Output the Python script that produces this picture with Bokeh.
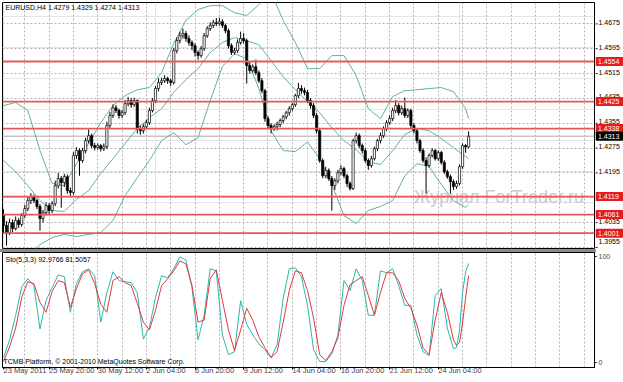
from bokeh.plotting import figure
from bokeh.models import Range1d, FixedTicker, Grid, Label, Span, ColumnDataSource, Div
from bokeh.layouts import column, row
from bokeh.embed import file_html
from bokeh.resources import INLINE
from bokeh.core.properties import value

# ---------------- data ----------------
opens = [1.4060, 1.4026, 1.4003, 1.4035, 1.4016, 1.4042, 1.4029, 1.4058, 1.4080, 1.4106,
         1.4119, 1.4106, 1.4087, 1.4048, 1.4067, 1.4090, 1.4074, 1.4096, 1.4154, 1.4177,
         1.4164, 1.4183, 1.4138, 1.4132, 1.4251, 1.4267, 1.4235, 1.4267, 1.4299, 1.4315,
         1.4283, 1.4277, 1.4283, 1.4273, 1.4280, 1.4348, 1.4380, 1.4405, 1.4396, 1.4380,
         1.4389, 1.4418, 1.4428, 1.4415, 1.4428, 1.4338, 1.4331, 1.4344, 1.4357, 1.4396,
         1.4428, 1.4467, 1.4486, 1.4492, 1.4499, 1.4492, 1.4486, 1.4589, 1.4621, 1.4637,
         1.4644, 1.4628, 1.4615, 1.4605, 1.4583, 1.4573, 1.4595, 1.4637, 1.4660, 1.4670,
         1.4679, 1.4676, 1.4682, 1.4670, 1.4653, 1.4605, 1.4583, 1.4589, 1.4615, 1.4628,
         1.4621, 1.4541, 1.4525, 1.4537, 1.4518, 1.4492, 1.4460, 1.4370, 1.4348, 1.4338,
         1.4344, 1.4351, 1.4364, 1.4376, 1.4389, 1.4402, 1.4415, 1.4444, 1.4467, 1.4460,
         1.4454, 1.4428, 1.4412, 1.4380, 1.4331, 1.4235, 1.4186, 1.4203, 1.4177, 1.4154,
         1.4170, 1.4196, 1.4209, 1.4186, 1.4161, 1.4145, 1.4299, 1.4315, 1.4283, 1.4267,
         1.4235, 1.4219, 1.4241, 1.4273, 1.4299, 1.4315, 1.4338, 1.4357, 1.4370, 1.4396,
         1.4412, 1.4389, 1.4402, 1.4380, 1.4396, 1.4348, 1.4331, 1.4299, 1.4267, 1.4235,
         1.4219, 1.4251, 1.4267, 1.4241, 1.4261, 1.4229, 1.4199, 1.4183, 1.4167, 1.4151,
         1.4161, 1.4215, 1.4283, 1.4279]
highs = [1.4078, 1.4040, 1.4048, 1.4046, 1.4055, 1.4050, 1.4066, 1.4092, 1.4118, 1.4130,
         1.4125, 1.4112, 1.4095, 1.4076, 1.4100, 1.4098, 1.4104, 1.4170, 1.4195, 1.4185,
         1.4192, 1.4190, 1.4148, 1.4262, 1.4278, 1.4274, 1.4276, 1.4308, 1.4335, 1.4322,
         1.4292, 1.4290, 1.4288, 1.4290, 1.4360, 1.4392, 1.4416, 1.4414, 1.4402, 1.4398,
         1.4430, 1.4440, 1.4436, 1.4437, 1.4432, 1.4348, 1.4352, 1.4366, 1.4405, 1.4436,
         1.4475, 1.4500, 1.4502, 1.4510, 1.4505, 1.4498, 1.4598, 1.4632, 1.4650, 1.4660,
         1.4652, 1.4638, 1.4622, 1.4612, 1.4590, 1.4604, 1.4646, 1.4668, 1.4680, 1.4688,
         1.4694, 1.4695, 1.4690, 1.4676, 1.4660, 1.4612, 1.4598, 1.4625, 1.4650, 1.4645,
         1.4628, 1.4552, 1.4545, 1.4560, 1.4525, 1.4500, 1.4466, 1.4378, 1.4355, 1.4352,
         1.4360, 1.4370, 1.4382, 1.4395, 1.4410, 1.4420, 1.4450, 1.4485, 1.4478, 1.4470,
         1.4462, 1.4436, 1.4420, 1.4388, 1.4340, 1.4242, 1.4215, 1.4210, 1.4185, 1.4178,
         1.4205, 1.4220, 1.4215, 1.4192, 1.4168, 1.4305, 1.4325, 1.4322, 1.4290, 1.4275,
         1.4242, 1.4250, 1.4280, 1.4305, 1.4325, 1.4345, 1.4365, 1.4380, 1.4405, 1.4430,
         1.4420, 1.4412, 1.4438, 1.4403, 1.4402, 1.4355, 1.4338, 1.4305, 1.4275, 1.4245,
         1.4258, 1.4275, 1.4272, 1.4268, 1.4266, 1.4236, 1.4205, 1.4190, 1.4174, 1.4170,
         1.4222, 1.4290, 1.4288, 1.4329]
lows = [1.4000, 1.3961, 1.3995, 1.4005, 1.4010, 1.4018, 1.4022, 1.4050, 1.4072, 1.4095,
        1.4098, 1.4078, 1.4009, 1.4035, 1.4058, 1.4060, 1.4066, 1.4088, 1.4145, 1.4083,
        1.4150, 1.4128, 1.4120, 1.4125, 1.4240, 1.4186, 1.4228, 1.4258, 1.4290, 1.4275,
        1.4268, 1.4270, 1.4264, 1.4266, 1.4272, 1.4340, 1.4372, 1.4388, 1.4370, 1.4372,
        1.4382, 1.4410, 1.4405, 1.4408, 1.4322, 1.4318, 1.4322, 1.4336, 1.4350, 1.4390,
        1.4420, 1.4458, 1.4478, 1.4485, 1.4482, 1.4475, 1.4480, 1.4580, 1.4612, 1.4628,
        1.4618, 1.4605, 1.4590, 1.4570, 1.4560, 1.4566, 1.4588, 1.4630, 1.4652, 1.4662,
        1.4668, 1.4670, 1.4662, 1.4645, 1.4596, 1.4575, 1.4576, 1.4582, 1.4608, 1.4612,
        1.4483, 1.4515, 1.4518, 1.4510, 1.4485, 1.4452, 1.4360, 1.4338, 1.4322, 1.4330,
        1.4332, 1.4342, 1.4356, 1.4368, 1.4380, 1.4395, 1.4408, 1.4436, 1.4450, 1.4445,
        1.4420, 1.4402, 1.4372, 1.4322, 1.4228, 1.4178, 1.4178, 1.4170, 1.4074, 1.4140,
        1.4162, 1.4188, 1.4178, 1.4150, 1.4138, 1.4140, 1.4290, 1.4275, 1.4258, 1.4228,
        1.4205, 1.4212, 1.4235, 1.4265, 1.4290, 1.4308, 1.4330, 1.4350, 1.4362, 1.4388,
        1.4380, 1.4382, 1.4372, 1.4372, 1.4340, 1.4322, 1.4290, 1.4260, 1.4228, 1.4129,
        1.4212, 1.4245, 1.4235, 1.4234, 1.4222, 1.4192, 1.4176, 1.4129, 1.4140, 1.4144,
        1.4155, 1.4208, 1.4260, 1.4274]
closes = [1.4026, 1.4003, 1.4035, 1.4016, 1.4042, 1.4029, 1.4058, 1.4080, 1.4106, 1.4119,
          1.4106, 1.4087, 1.4048, 1.4067, 1.4090, 1.4074, 1.4096, 1.4154, 1.4177, 1.4164,
          1.4183, 1.4138, 1.4132, 1.4251, 1.4267, 1.4235, 1.4267, 1.4299, 1.4315, 1.4283,
          1.4277, 1.4283, 1.4273, 1.4280, 1.4348, 1.4380, 1.4405, 1.4396, 1.4380, 1.4389,
          1.4418, 1.4428, 1.4415, 1.4428, 1.4338, 1.4331, 1.4344, 1.4357, 1.4396, 1.4428,
          1.4467, 1.4486, 1.4492, 1.4499, 1.4492, 1.4486, 1.4589, 1.4621, 1.4637, 1.4644,
          1.4628, 1.4615, 1.4605, 1.4583, 1.4573, 1.4595, 1.4637, 1.4660, 1.4670, 1.4679,
          1.4676, 1.4682, 1.4670, 1.4653, 1.4605, 1.4583, 1.4589, 1.4615, 1.4628, 1.4621,
          1.4541, 1.4525, 1.4537, 1.4518, 1.4492, 1.4460, 1.4370, 1.4348, 1.4338, 1.4344,
          1.4351, 1.4364, 1.4376, 1.4389, 1.4402, 1.4415, 1.4444, 1.4467, 1.4460, 1.4454,
          1.4428, 1.4412, 1.4380, 1.4331, 1.4235, 1.4186, 1.4203, 1.4177, 1.4154, 1.4170,
          1.4196, 1.4209, 1.4186, 1.4161, 1.4145, 1.4299, 1.4315, 1.4283, 1.4267, 1.4235,
          1.4219, 1.4241, 1.4273, 1.4299, 1.4315, 1.4338, 1.4357, 1.4370, 1.4396, 1.4412,
          1.4389, 1.4402, 1.4380, 1.4396, 1.4348, 1.4331, 1.4299, 1.4267, 1.4235, 1.4219,
          1.4251, 1.4267, 1.4241, 1.4261, 1.4229, 1.4199, 1.4183, 1.4167, 1.4151, 1.4161,
          1.4215, 1.4283, 1.4279, 1.4313]
bar_idx = list(range(len(closes)))

band_idx = [0, 4, 8, 12, 16, 20, 24, 28, 32, 36, 40, 44, 48, 52, 56, 60, 64, 68, 72, 76,
            80, 84, 88, 92, 96, 100, 104, 108, 112, 116, 120, 124, 128, 132, 136, 140, 144,
            148, 152, 153]
bb_upper = [1.4412, 1.4422, 1.4396, 1.4267, 1.4161, 1.4154, 1.4225, 1.4290, 1.4357, 1.4412,
            1.4444, 1.4463, 1.4470, 1.4518, 1.4612, 1.4686, 1.4721, 1.4734, 1.4734, 1.4711,
            1.4702, 1.4737, 1.4776, 1.4686, 1.4615, 1.4531, 1.4531, 1.4573, 1.4573, 1.4509,
            1.4402, 1.4370, 1.4441, 1.4460, 1.4463, 1.4467, 1.4470, 1.4457, 1.4402, 1.4370]
bb_middle = [1.4235, 1.4199, 1.4154, 1.4106, 1.4074, 1.4071, 1.4110, 1.4138, 1.4193, 1.4241,
             1.4290, 1.4338, 1.4373, 1.4402, 1.4454, 1.4496, 1.4531, 1.4583, 1.4615, 1.4631,
             1.4621, 1.4608, 1.4557, 1.4505, 1.4463, 1.4425, 1.4389, 1.4341, 1.4299, 1.4270,
             1.4232, 1.4222, 1.4267, 1.4319, 1.4338, 1.4331, 1.4306, 1.4277, 1.4248, 1.4241]
bb_lower = [1.3865, 1.3906, 1.3929, 1.3964, 1.3987, 1.3997, 1.3990, 1.3997, 1.4003, 1.4042,
            1.4122, 1.4180, 1.4235, 1.4299, 1.4325, 1.4286, 1.4309, 1.4428, 1.4538, 1.4579,
            1.4563, 1.4467, 1.4331, 1.4267, 1.4264, 1.4295, 1.4241, 1.4158, 1.4058, 1.4032,
            1.4074, 1.4087, 1.4106, 1.4186, 1.4225, 1.4216, 1.4158, 1.4106, 1.4084, 1.4093]

sto_idx = [0, 2, 4, 6, 8, 10, 12, 14, 16, 18, 20, 22, 24, 26, 28, 30, 32, 34, 36, 38,
           40, 42, 44, 46, 48, 50, 52, 54, 56, 58, 60, 62, 64, 66, 68, 70, 72, 74, 76, 78,
           80, 82, 84, 86, 88, 90, 92, 94, 96, 98, 100, 102, 104, 106, 108, 110, 112, 114, 116, 118,
           120, 122, 124, 126, 128, 130, 132, 134, 136, 138, 140, 142, 144, 146, 148, 149, 150, 151, 152, 153]
sto_k = [4.6, 21.3, 44.4, 71.3, 78.7, 72.2, 31.5, 58.3, 70.4, 82.4,
         80.6, 47.2, 74.1, 85.2, 88.0, 81.5, 38.0, 65.7, 85.2, 76.9,
         75.9, 75.0, 65.7, 22.0, 33.0, 61.1, 81.5, 79.6, 88.0, 99.1,
         96.3, 70.4, 21.3, 44.4, 88.0, 86.1, 26.0, 7.4, 10.2, 58.0,
         36.0, 25.9, 17.6, 12.0, 4.6, 16.7, 60.2, 88.0, 88.9, 80.6,
         53.7, 12.0, 0.9, 0.9, 8.3, 25.9, 76.9, 67.6, 88.0, 76.9,
         44.4, 44.4, 86.1, 84.3, 88.0, 72.2, 53.7, 53.7, 25.9, 10.2,
         6.5, 63.0, 69.4, 32.4, 13.0, 14.0, 30.0, 66.0, 85.0, 92.9766]
sto_d = [0.9, 14.8, 32.4, 61.1, 75.9, 74.1, 56.5, 47.2, 66.7, 76.9,
         75.0, 51.9, 69.4, 83.3, 87.0, 74.1, 54.6, 47.2, 76.9, 80.6,
         75.0, 72.2, 55.6, 38.0, 30.6, 49.1, 72.2, 78.7, 86.1, 95.4,
         92.6, 72.2, 38.0, 39.8, 78.7, 87.0, 58.3, 30.6, 11.1, 30.6,
         50.9, 39.8, 24.1, 13.9, 4.6, 10.2, 38.0, 67.6, 86.1, 84.3,
         67.6, 41.7, 7.4, 1.9, 10.2, 23.1, 53.7, 73.1, 76.9, 80.6,
         63.0, 44.4, 65.7, 84.3, 84.3, 76.9, 60.2, 50.9, 35.2, 13.9,
         7.4, 39.8, 65.7, 47.2, 21.3, 16.0, 19.0, 37.0, 61.0, 81.5057]

price_ticks = [1.3955, 1.4035, 1.4115, 1.4195, 1.4275, 1.4355, 1.4435, 1.4515, 1.4595, 1.4675]
price_tick_labels = ["1.3955", "1.4035", "1.4115", "1.4195", "1.4275", "1.4355", "1.4435",
                     "1.4515", "1.4595", "1.4675"]
level_prices = [1.4554, 1.4425, 1.4338, 1.4119, 1.4061, 1.4001]
level_labels = ["1.4554", "1.4425", "1.4338", "1.4119", "1.4061", "1.4001"]
bid_price = 1.4313
bid_label = "1.4313"
time_label_idx = [0, 15, 31, 47, 63, 79, 95, 111, 127, 143]
time_labels = ["23 May 2011", "25 May 20:00", "30 May 12:00", "2 Jun 04:00", "6 Jun 20:00",
               "9 Jun 12:00", "14 Jun 04:00", "16 Jun 20:00", "21 Jun 12:00", "24 Jun 04:00"]
grid_idx = list(range(7, 192, 8))
header_text = "EURUSD,H4  1.4279 1.4329 1.4274 1.4313"
sto_text = "Sto(5,3,3) 92.9766 81.5057"
copyright_text = "TCMB Platform, \u00a9 2001-2010 MetaQuotes Software Corp."
watermark_text = "\u0416\u0443\u0440\u043d\u0430\u043b ForTrader.ru"

# ---------------- styles ----------------
FONT = "Liberation Sans"
GRID_COLOR = "#b4b4b4"
BB_COLOR = "#5fb396"
LEVEL_COLOR = "#e45a5a"
LABEL_RED = "#e41e1e"
# vertical nudge of price-scale labels (px, the lowest one is kept inside the window)
tick_label_offsets = [-6, -1.5, -1.5, -1.5, -1.5, -1.5, -1.5, -1.5, -1.5, -1.5]

xr = Range1d(-0.33, 194.4)
yr = Range1d(1.39517, 1.47440)

# ---------------- main price panel ----------------
p = figure(width=595, height=249, x_range=xr, y_range=yr,
           output_backend="svg", toolbar_location=None, x_axis_location=None,
           y_axis_location=None, min_border_left=2, min_border_top=2,
           min_border_bottom=1, min_border_right=1)
p.outline_line_color = "black"
p.outline_line_width = 1
p.background_fill_color = "white"
p.border_fill_color = "white"

p.add_layout(Grid(dimension=1, ticker=FixedTicker(ticks=price_ticks),
                  grid_line_color=GRID_COLOR, grid_line_dash="2 2"))
p.add_layout(Grid(dimension=0, ticker=FixedTicker(ticks=grid_idx),
                  grid_line_color=GRID_COLOR, grid_line_dash="2 2"))

# watermark
p.text(x=[135.0], y=[1.4117], text=[watermark_text], text_font=value(FONT),
       text_font_size="18px", text_color="#cbcbcb", text_baseline="middle", text_align="left")

# bid line
p.add_layout(Span(location=bid_price, dimension="width", line_color="#c4c4c4",
                  line_width=1.5, level="underlay"))

# bollinger bands
p.line(band_idx, bb_upper, line_color=BB_COLOR, line_width=1)
p.line(band_idx, bb_middle, line_color=BB_COLOR, line_width=1)
p.line(band_idx, bb_lower, line_color=BB_COLOR, line_width=1)

# candles
src = ColumnDataSource(dict(
    x=bar_idx, o=opens, h=highs, l=lows, c=closes,
    top=[max(o, c) for o, c in zip(opens, closes)],
    bot=[min(o, c) for o, c in zip(opens, closes)],
    fill=["white" if c >= o else "black" for o, c in zip(opens, closes)],
))
p.segment(x0="x", y0="l", x1="x", y1="h", source=src, line_color="black", line_width=1)
p.vbar(x="x", width=0.72, top="top", bottom="bot", source=src, fill_color="fill",
       line_color="black", line_width=0.7)

# horizontal levels
for lvl in level_prices:
    p.add_layout(Span(location=lvl, dimension="width", line_color=LEVEL_COLOR, line_width=1.8))

p.add_layout(Label(x=3, y=241, x_units="screen", y_units="screen", text=header_text,
                   text_font=FONT, text_font_size="7px", text_color="black",
                   text_baseline="middle", text_align="left"))

# ---------------- price scale strip (right) ----------------
a = figure(width=28, height=249, x_range=Range1d(0, 28), y_range=yr,
           output_backend="svg", toolbar_location=None, x_axis_location=None,
           y_axis_location=None, min_border_left=0, min_border_top=2,
           min_border_bottom=1, min_border_right=0)
a.outline_line_color = None
a.background_fill_color = "white"
a.border_fill_color = "white"
a.grid.visible = False
n_t = len(price_ticks)
a.segment(x0=[0] * n_t, x1=[2] * n_t, y0=price_ticks, y1=price_ticks, line_color="black", line_width=1)
tick_src = ColumnDataSource(dict(x=[3] * n_t, y=price_ticks, t=price_tick_labels,
                                 off=tick_label_offsets))
a.text(x="x", y="y", text="t", y_offset="off", source=tick_src, text_font=value(FONT),
       text_font_size="7px", text_color="black", text_baseline="middle", text_align="left")
n_l = len(level_prices)
a.rect(x=[14] * n_l, y=level_prices, width=28, height=9, height_units="screen",
       fill_color=LABEL_RED, line_color=None)
a.text(x=[2.5] * n_l, y=level_prices, text=level_labels, text_font=value(FONT),
       text_font_size="7px", text_color="white", text_baseline="middle", text_align="left")
a.rect(x=[14], y=[bid_price], width=28, height=9, height_units="screen",
       fill_color="black", line_color=None)
a.text(x=[2.5], y=[bid_price], text=[bid_label], text_font=value(FONT),
       text_font_size="7px", text_color="white", text_baseline="middle", text_align="left")

sep = Div(text="", width=596, height=3, margin=(0, 0, 0, 0),
          styles={"background-color": "#8c8c8c"})

# ---------------- stochastic ----------------
s = figure(width=623, height=130, x_range=xr, y_range=Range1d(-4.65, 103.3),
           output_backend="svg", toolbar_location=None, y_axis_location="right",
           min_border_left=2, min_border_top=0, min_border_bottom=14, min_border_right=29)
s.outline_line_color = "black"
s.background_fill_color = "white"
s.border_fill_color = "white"
s.ygrid.grid_line_color = None
s.xgrid.ticker = FixedTicker(ticks=grid_idx)
s.xgrid.grid_line_color = GRID_COLOR
s.xgrid.grid_line_dash = "2 2"

sy = s.yaxis[0]
sy.ticker = FixedTicker(ticks=[0, 100])
sy.major_label_text_font = FONT
sy.major_label_text_font_size = "7px"
sy.major_tick_out = 2
sy.major_tick_in = 0
sy.minor_tick_line_color = None
sy.major_label_standoff = 2
sy.axis_line_color = "black"

sx = s.xaxis[0]
sx.ticker = FixedTicker(ticks=time_label_idx)
sx.major_label_overrides = {i: t for i, t in zip(time_label_idx, time_labels)}
sx.major_label_text_font = FONT
sx.major_label_text_font_size = "7.5px"
sx.major_label_orientation = -0.0001
sx.major_tick_out = 2
sx.major_tick_in = 0
sx.minor_tick_line_color = None
sx.major_label_standoff = 1
sx.axis_line_color = "black"

s.line(sto_idx, sto_k, line_color="#2ab7b0", line_width=1)
s.line(sto_idx, sto_d, line_color="#e23a3a", line_width=1)

s.add_layout(Label(x=3, y=108, x_units="screen", y_units="screen", text=sto_text,
                   text_font=FONT, text_font_size="7px", text_color="black",
                   text_baseline="middle", text_align="left"))
s.add_layout(Label(x=1, y=6, x_units="screen", y_units="screen", text=copyright_text,
                   text_font=FONT, text_font_size="7px", text_color="black",
                   text_baseline="middle", text_align="left"))

layout = column(row(p, a, spacing=0), sep, s, spacing=0)
open("out.html", "w").write(file_html(layout, INLINE))
